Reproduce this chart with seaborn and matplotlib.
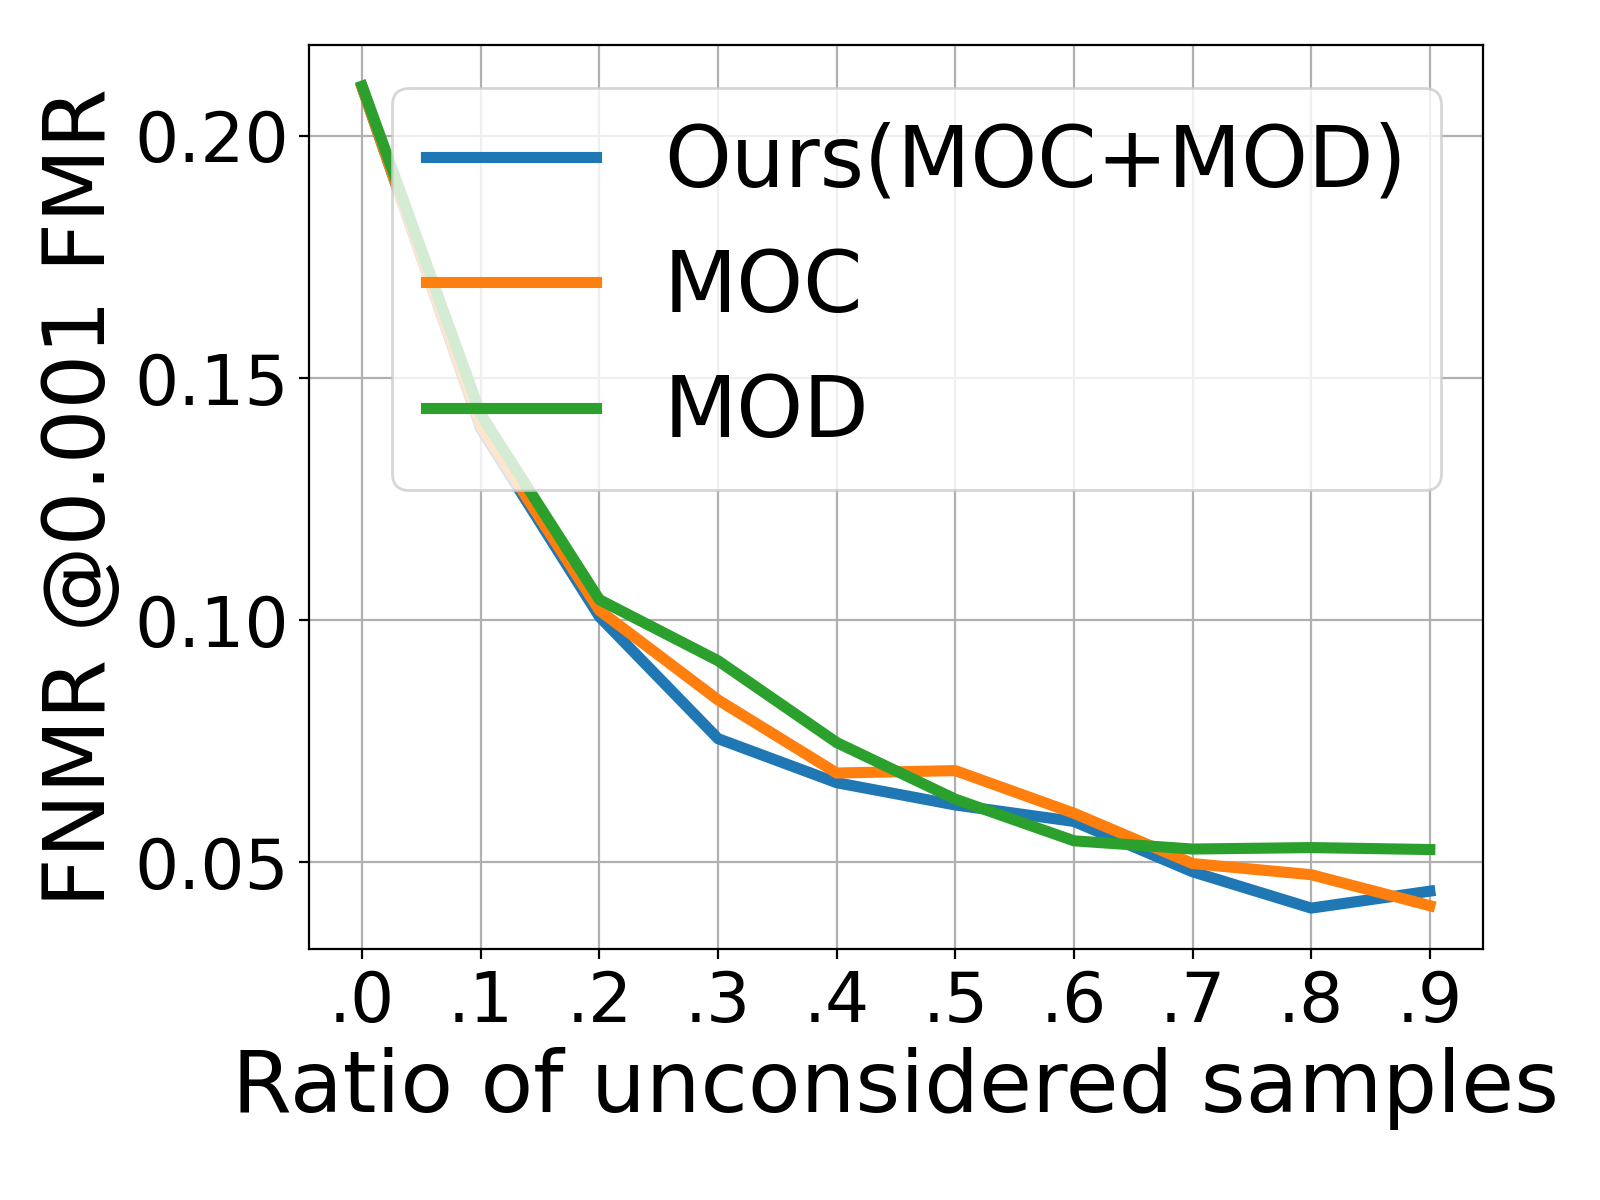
import matplotlib
matplotlib.use("Agg")
import matplotlib.pyplot as plt
import seaborn as sns
import pandas as pd

ratios = [0.0, 0.1, 0.2, 0.3, 0.4, 0.5, 0.6, 0.7, 0.8, 0.9]
tick_labels = [".0", ".1", ".2", ".3", ".4", ".5", ".6", ".7", ".8", ".9"]
ours = [0.2100, 0.1395, 0.1007, 0.0755, 0.0664, 0.0618, 0.0584, 0.0480, 0.0405, 0.0440]
moc = [0.2100, 0.1400, 0.1020, 0.0835, 0.0684, 0.0689, 0.0601, 0.0497, 0.0474, 0.0410]
mod = [0.2103, 0.1425, 0.1042, 0.0916, 0.0747, 0.0630, 0.0544, 0.0527, 0.0530, 0.0526]
series_names = ["Ours(MOC+MOD)", "MOC", "MOD"]
colors = ["#1f77b4", "#ff7f0e", "#2ca02c"]

frames = []
for name, vals in zip(series_names, [ours, moc, mod]):
    frames.append(pd.DataFrame({"ratio": ratios, "fnmr": vals, "method": name}))
df = pd.concat(frames, ignore_index=True)

plt.rcParams['font.family'] = ['DejaVu Sans']
fig = plt.figure(figsize=(8, 6), dpi=200)
ax = fig.add_axes([0.193, 0.209, 0.734, 0.7535])

sns.lineplot(data=df, x="ratio", y="fnmr", hue="method", hue_order=series_names,
             palette=colors, linewidth=4, ax=ax, legend=True)

ax.grid(True, color="#b0b0b0", linewidth=0.8)
ax.set_axisbelow(True)
ax.set_xticks(ratios)
ax.set_xticklabels(tick_labels)
ax.set_yticks([0.05, 0.10, 0.15, 0.20])
ax.tick_params(axis="both", labelsize=25)
ax.set_xlabel("Ratio of unconsidered samples", fontsize=31)
ax.set_ylabel("FNMR @0.001 FMR", fontsize=31)

handles, labels = ax.get_legend_handles_labels()
ax.legend(handles, labels, loc="upper right", fontsize=30.6, title=None)

fig.savefig("out.png", dpi=200)
